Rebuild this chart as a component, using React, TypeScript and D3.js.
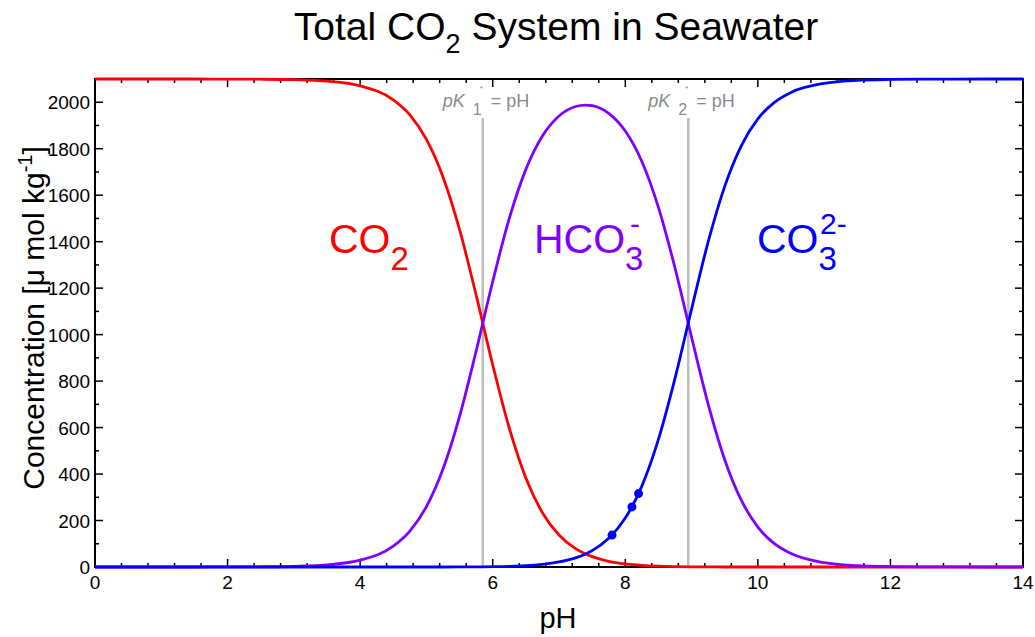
import React from "react";
import * as d3 from "d3";

// ---- data ----
const pH = [0, 0.5, 1, 1.5, 2, 2.5, 3, 3.5, 4, 4.5, 4.75, 5, 5.25, 5.5, 5.75, 6, 6.25, 6.5, 6.75, 7, 7.25, 7.4, 7.5, 7.75, 8, 8.25, 8.5, 8.75, 9, 9.25, 9.5, 9.75, 10, 10.25, 10.5, 11, 11.5, 12, 12.5, 13, 13.5, 14];
const co2 = [2100, 2100, 2100, 2099.9, 2099.7, 2099.1, 2097, 2090.6, 2070.7, 2010.2, 1945.5, 1840, 1678.4, 1451.6, 1170, 869.9, 597.1, 383, 233.5, 137.4, 78.9, 56, 44.4, 24.6, 13.3, 6.9, 3.5, 1.6, 0.7, 0.3, 0.1, 0, 0, 0, 0, 0, 0, 0, 0, 0, 0, 0];
const hco3 = [0, 0, 0, 0.1, 0.3, 0.9, 3, 9.4, 29.3, 89.8, 154.5, 260, 421.6, 648.4, 929.4, 1228.7, 1500, 1711, 1854.8, 1940.8, 1981.6, 1988, 1985.1, 1952.3, 1876.2, 1745, 1547.5, 1286.6, 989.3, 701, 461.7, 287.3, 171.8, 100.2, 57.6, 18.6, 5.9, 1.9, 0.6, 0.2, 0.1, 0];
const co3 = [0, 0, 0, 0, 0, 0, 0, 0, 0, 0, 0, 0, 0.1, 0.2, 0.6, 1.4, 3, 6.1, 11.7, 21.8, 39.5, 56, 70.4, 123.2, 210.5, 348.2, 549.1, 811.8, 1110, 1398.7, 1638.1, 1812.7, 1928.2, 1999.8, 2042.4, 2081.4, 2094.1, 2098.1, 2099.4, 2099.8, 2099.9, 2100];
const samplePH = [7.8, 8.1, 8.2];
const sampleCO3 = [137.4, 258.7, 315.8];
const pKs = [5.85, 8.95];
const pKSubs = ["1", "2"];
const pKLineTop = 1930;
const xMajor = [0, 2, 4, 6, 8, 10, 12, 14];
const yMajor = [0, 200, 400, 600, 800, 1000, 1200, 1400, 1600, 1800, 2000];

const W = 1035, H = 637;
const M = { left: 95, right: 1023, top: 79, bottom: 567 };
const FONT = "'Liberation Sans', Arial, Helvetica, sans-serif";
const RED = "#ff0000", PURPLE = "#8000ff", BLUE = "#0000ff", GRAY = "#8a8a8a";

export default function App() {
  const x = d3.scaleLinear().domain([0, 14]).range([M.left, M.right]);
  const y = d3.scaleLinear().domain([0, 2100]).range([M.bottom, M.top]);
  const line = (vals: number[]) =>
    d3.line<number>().x((_, i) => x(pH[i])).y((d) => y(d)).curve(d3.curveMonotoneX)(vals) || "";

  const xMinor = d3.range(0, 14.0001, 0.4).filter((v) => !xMajor.some((m) => Math.abs(m - v) < 1e-6));
  const yMinor = d3.range(100, 2100.1, 200);

  const tickLines: any[] = [];
  xMajor.forEach((v, i) => {
    tickLines.push(<line key={"xb" + i} x1={x(v)} x2={x(v)} y1={M.bottom} y2={M.bottom - 8} />);
    tickLines.push(<line key={"xt" + i} x1={x(v)} x2={x(v)} y1={M.top} y2={M.top + 8} />);
  });
  xMinor.forEach((v, i) => {
    tickLines.push(<line key={"xbm" + i} x1={x(v)} x2={x(v)} y1={M.bottom} y2={M.bottom - 4} />);
    tickLines.push(<line key={"xtm" + i} x1={x(v)} x2={x(v)} y1={M.top} y2={M.top + 4} />);
  });
  yMajor.forEach((v, i) => {
    tickLines.push(<line key={"yl" + i} x1={M.left} x2={M.left + 8} y1={y(v)} y2={y(v)} />);
    tickLines.push(<line key={"yr" + i} x1={M.right} x2={M.right - 8} y1={y(v)} y2={y(v)} />);
  });
  yMinor.forEach((v, i) => {
    tickLines.push(<line key={"ylm" + i} x1={M.left} x2={M.left + 4} y1={y(v)} y2={y(v)} />);
    tickLines.push(<line key={"yrm" + i} x1={M.right} x2={M.right - 4} y1={y(v)} y2={y(v)} />);
  });

  return (
    <svg width={W} height={H} style={{ position: "absolute", left: 0, top: 0, background: "#fff" }} fontFamily={FONT}>
      <rect x={0} y={0} width={W} height={H} fill="#fff" />
      {/* title */}
      <text x={556} y={40} textAnchor="middle" fontSize={39} fill="#000">
        Total CO<tspan dy={13} fontSize={27}>2</tspan><tspan dy={-13}> System in Seawater</tspan>
      </text>

      {/* pK lines and labels */}
      {pKs.map((v, i) => (
        <g key={"pk" + i} fill={GRAY}>
          <line x1={x(v)} x2={x(v)} y1={y(pKLineTop)} y2={y(0)} stroke="#7a7a7a" strokeWidth={2.5} strokeDasharray="1,1" />
          <text x={x(v) - 40} y={107} fontSize={18} fontStyle="italic">pK</text>
          <text x={x(v) - 3} y={91} fontSize={8}>*</text>
          <text x={x(v) - 10} y={115} fontSize={16}>{pKSubs[i]}</text>
          <text x={x(v) + 8} y={107} fontSize={18}>= pH</text>
        </g>
      ))}

      {/* frame and ticks */}
      <rect x={M.left} y={M.top} width={M.right - M.left} height={M.bottom - M.top} fill="none" stroke="#000" strokeWidth={2} />
      <g stroke="#000" strokeWidth={1.5}>{tickLines}</g>

      {/* tick labels */}
      {xMajor.map((v) => (
        <text key={"xl" + v} x={x(v)} y={589} textAnchor="middle" fontSize={19}>{v}</text>
      ))}
      {yMajor.map((v) => (
        <text key={"yl" + v} x={90} y={y(v) + 7} textAnchor="end" fontSize={19}>{v}</text>
      ))}

      {/* axis labels */}
      <text x={558} y={628} textAnchor="middle" fontSize={29}>pH</text>
      <text transform={`translate(44,${318}) rotate(-90)`} textAnchor="middle" fontSize={30}>
        Concentration [μ mol kg<tspan dy={-12} fontSize={20}>-1</tspan><tspan dy={12}>]</tspan>
      </text>

      {/* curves */}
      <path d={line(co2)} fill="none" stroke={RED} strokeWidth={2.8} />
      <path d={line(hco3)} fill="none" stroke={PURPLE} strokeWidth={2.8} />
      <path d={line(co3)} fill="none" stroke={BLUE} strokeWidth={2.8} />
      {samplePH.map((v, i) => (
        <circle key={"s" + i} cx={x(v)} cy={y(sampleCO3[i])} r={4.5} fill={BLUE} />
      ))}

      {/* species labels */}
      <text x={329} y={253} fontSize={41} fill={RED}>
        CO<tspan dy={17} fontSize={33}>2</tspan>
      </text>
      <text x={534} y={253} fontSize={41} fill={PURPLE}>
        HCO<tspan dy={17} fontSize={33}>3</tspan>
      </text>
      <text x={630} y={234} fontSize={30} fill={PURPLE}>-</text>
      <text x={757} y={253} fontSize={41} fill={BLUE}>
        CO<tspan dy={17} fontSize={33}>3</tspan>
      </text>
      <text x={820} y={234} fontSize={30} fill={BLUE}>2-</text>
    </svg>
  );
}
